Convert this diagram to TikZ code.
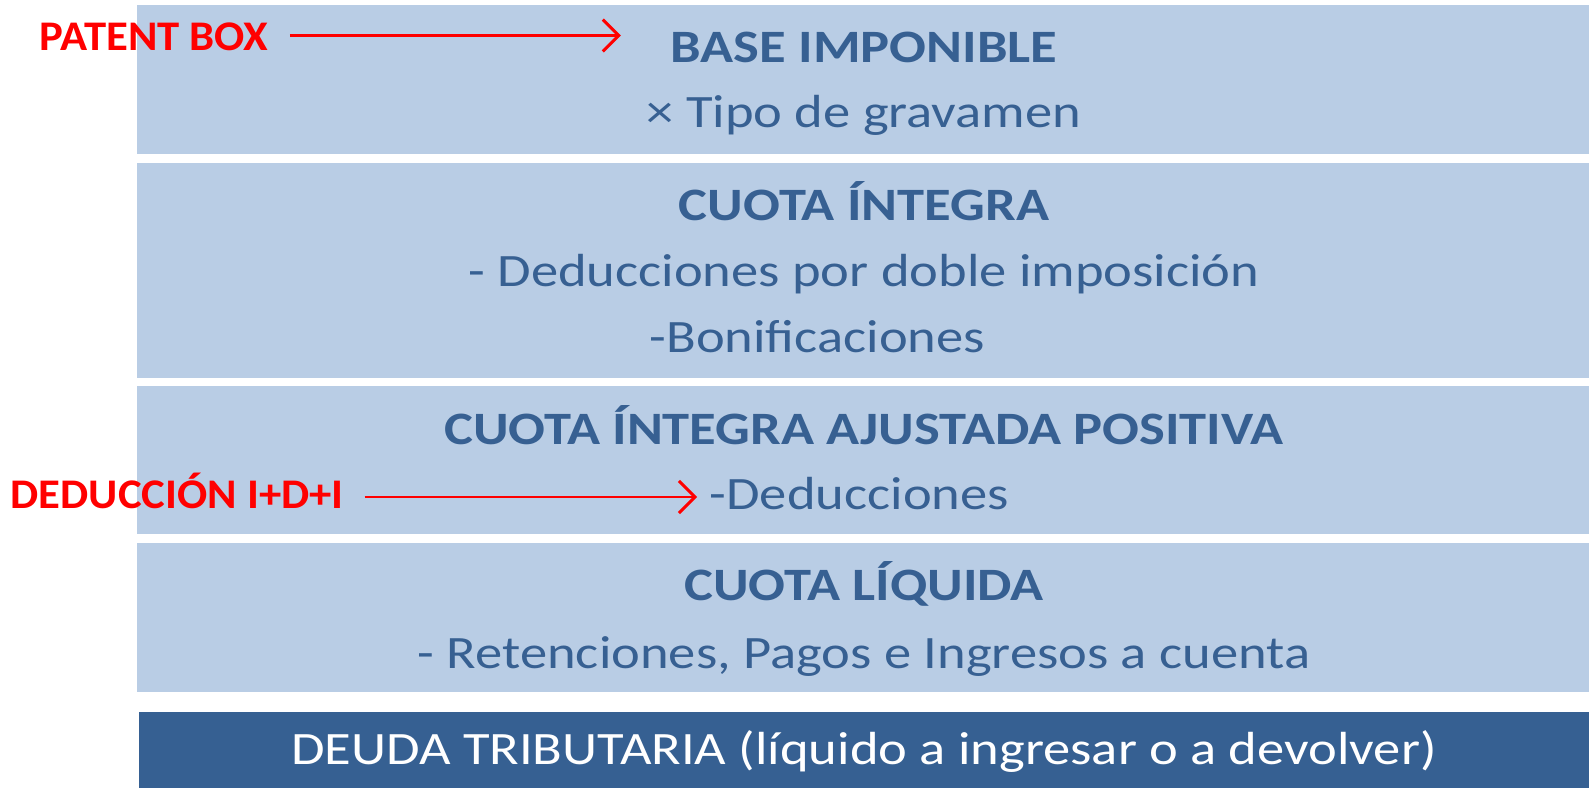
\documentclass[tikz,border=0pt]{standalone}
\usepackage{fontspec}
\setmainfont{Carlito}[FakeStretch=1.175]
\newfontfamily\notefont{Carlito}[FakeStretch=1.06]
\usetikzlibrary{arrows.meta}
\definecolor{bandfill}{HTML}{B9CDE5}
\definecolor{bandtext}{HTML}{376092}
\definecolor{deudafill}{HTML}{366092}
\tikzset{
  band/.style={fill=bandfill},
  head/.style={anchor=base, inner sep=0pt, text=bandtext, font=\fontsize{13.2}{15}\selectfont\bfseries},
  entry/.style={anchor=base, inner sep=0pt, text=bandtext, font=\fontsize{13.2}{15}\selectfont},
  note/.style={anchor=base west, inner sep=0pt, text=red, font=\notefont\fontsize{12}{14}\selectfont\bfseries},
  pointer/.style={draw=red, line width=0.85pt, -{Straight Barb[length=1.6mm, width=3.2mm, line width=0.85pt]}}
}
\begin{document}
\begin{tikzpicture}[x=0.01cm, y=-0.01cm]
\useasboundingbox (0,0) rectangle (1589,788);
% bands
\fill[band] (137,5) rectangle (1589,154);
\fill[band] (137,163) rectangle (1589,378);
\fill[band] (137,386) rectangle (1589,534);
\fill[band] (137,543) rectangle (1589,692);
\fill[deudafill] (139,712) rectangle (1589,788);

\node[head] (base) at (864,63) {BASE IMPONIBLE};
\node[entry] (tipo) at (864,128) {× Tipo de gravamen};
\node[head] (integra) at (864,220) {CUOTA ÍNTEGRA};
\node[entry] (doble) at (864,286) {- Deducciones por doble imposición};
\node[entry, anchor=base west] (bonif) at (649,352) {-Bonificaciones};
\node[head] (ajustada) at (864,444) {CUOTA ÍNTEGRA AJUSTADA POSITIVA};
\node[entry, anchor=base west] (deduc) at (709,509) {-Deducciones};
\node[head] (liquida) at (864,600) {CUOTA LÍQUIDA};
\node[entry] (reten) at (864,668) {- Retenciones, Pagos e Ingresos a cuenta};
\node[entry, text=white] (deuda) at (864,764) {DEUDA TRIBUTARIA (líquido a ingresar o a devolver)};

% red notes
\node[note] (patent) at (39,51) {PATENT BOX};
\node[note] (idi) at (10,508) {DEDUCCIÓN I+D+I};
\coordinate (patentout) at ([yshift=0.155cm]patent.base east);
\coordinate (idiout) at ([yshift=0.11cm]idi.base east);
\draw[pointer, shorten <=0.21cm, shorten >=0.49cm] (patentout) -- (patentout -| base.west);
\draw[pointer, shorten <=0.2cm, shorten >=0.12cm] (idiout) -- (idiout -| deduc.west);
\end{tikzpicture}
\end{document}
